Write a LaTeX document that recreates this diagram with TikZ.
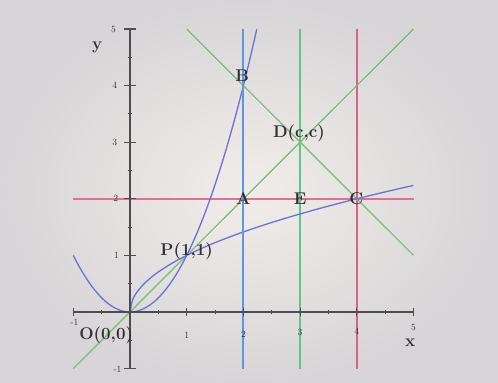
\documentclass[tikz,border=0pt]{standalone}
\definecolor{bgin}{RGB}{240,237,233}
\definecolor{bgout}{RGB}{216,213,216}
\definecolor{axisc}{RGB}{80,75,80}
\definecolor{curveblue}{RGB}{105,115,215}
\definecolor{xtwoblue}{RGB}{95,150,225}
\definecolor{lgreen}{RGB}{115,190,115}
\definecolor{vgreen}{RGB}{100,195,135}
\definecolor{lpink}{RGB}{225,110,150}
\definecolor{vpink}{RGB}{215,100,135}
\definecolor{labc}{RGB}{50,45,50}
\tikzset{
  axisline/.style={draw=axisc,line width=1.5pt},
  majtick/.style={draw=axisc,line width=1.2pt},
  mintick/.style={draw=axisc,line width=1pt},
  ticklab/.style={font=\fontsize{9.5}{10}\selectfont,text=labc,inner sep=0pt},
  ptlab/.style={font=\fontsize{17}{20}\selectfont\bfseries,text=labc,inner sep=0pt},
  axlab/.style={font=\fontsize{17}{19}\selectfont\bfseries,text=labc,inner sep=0pt},
  curve/.style={draw=curveblue,line width=1.3pt},
}
\begin{document}
\begin{tikzpicture}[x=56.7pt,y=56.6pt]
\useasboundingbox (-2.293,-1.254) rectangle (6.490,5.512);
\shade[inner color=bgin,outer color=bgout] (-2.293,-1.254) rectangle (6.490,5.512);
% key points
\coordinate (O) at (0,0);
\coordinate (P) at (1,1);
\coordinate (A) at (2,2);
\coordinate (B) at (2,4);
\coordinate (C) at (4,2);
\coordinate (D) at (3,3);
\coordinate (E) at (3,2);
\coordinate (xl) at (-1,0);
\coordinate (xr) at (5,0);
\coordinate (yb) at (0,-1);
\coordinate (yt) at (0,5);
\coordinate (hl) at (-1,2);
\coordinate (hr) at (5,2);
\coordinate (v2t) at (2,5);
\coordinate (v2b) at (2,-1);
\coordinate (v3t) at (3,5);
\coordinate (v3b) at (3,-1);
\coordinate (v4t) at (4,5);
\coordinate (v4b) at (4,-1);
\coordinate (d1) at (-1,-1);
\coordinate (d2) at (5,5);
\coordinate (e1) at (1,5);
\coordinate (e2) at (5,1);
% straight lines
\draw[draw=lpink,line width=2pt] (hl) -- (hr);
\draw[draw=vgreen,line width=1.6pt] (v3b) -- (v3t);
\draw[draw=vpink,line width=1.5pt] (v4b) -- (v4t);
\draw[draw=lgreen,line width=1.2pt] (d1) -- (d2);
\draw[draw=lgreen,line width=1.2pt] (e1) -- (e2);
% curves
\draw[curve] plot[domain=-1:2.236,samples=80,smooth] (\x,{\x*\x});
\draw[curve] plot[domain=0:5,samples=120,smooth] ({\x},{sqrt(\x)});
\draw[draw=xtwoblue,line width=2pt] (v2b) -- (v2t);
% axes
\draw[axisline] (xl) -- (xr);
\draw[axisline] (yb) -- (yt);
\foreach \i in {-1,1,2,3,4,5} {
  \draw[majtick] (\i,-0.07) -- (\i,0.07);
  \draw[majtick] (-0.1,\i) -- (0.1,\i);
}
\foreach \i in {-0.5,0.5,1.5,2.5,3.5,4.5} {
  \draw[mintick] (\i,-0.04) -- (\i,0.04);
  \draw[mintick] (-0.04,\i) -- (0.04,\i);
}
% tick labels
\node[ticklab] (ty5) at (-0.29,5.0) {5};
\node[ticklab] (ty4) at (-0.27,4.0) {4};
\node[ticklab] (ty3) at (-0.27,3.0) {3};
\node[ticklab] (ty2) at (-0.25,2.0) {2};
\node[ticklab] (ty1) at (-0.24,1.0) {1};
\node[ticklab] (tym) at (-0.22,-1.02) {-1};
\node[ticklab] (tx1) at (1.0,-0.42) {1};
\node[ticklab] (tx2) at (2.0,-0.40) {2};
\node[ticklab] (tx3) at (3.0,-0.36) {3};
\node[ticklab] (tx4) at (4.0,-0.34) {4};
\node[ticklab] (tx5) at (5.0,-0.27) {5};
\node[ticklab] (txm) at (-0.98,-0.18) {-1};
% axis names
\node[axlab] (ylab) at (-0.58,4.68) {y};
\node[axlab] (xlab) at (4.94,-0.55) {x};
% point labels
\node[ptlab] (Blab) at (1.98,4.17) {B};
\node[ptlab] (Dlab) at (2.98,3.16) {D(c,c)};
\node[ptlab] (Alab) at (2.0,2.0) {A};
\node[ptlab] (Elab) at (3.0,2.0) {E};
\node[ptlab] (Clab) at (3.99,2.0) {C};
\node[ptlab] (Plab) at (1.0,1.07) {P(1,1)};
\node[ptlab] (Olab) at (-0.42,-0.41) {O(0,0)};
\end{tikzpicture}
\end{document}
